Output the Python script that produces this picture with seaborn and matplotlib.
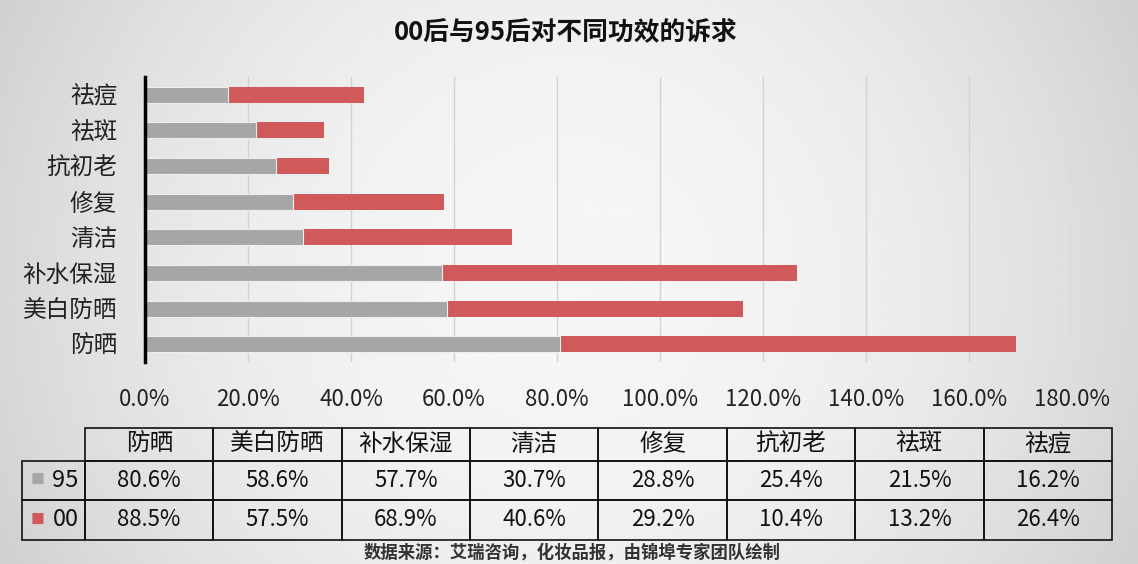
import numpy as np
import pandas as pd
import matplotlib.pyplot as plt
import seaborn as sns
from matplotlib.ticker import FuncFormatter

# data
effects = ['防晒', '美白防晒', '补水保湿', '清洁', '修复', '抗初老', '祛斑', '祛痘']
gen95 = [80.6, 58.6, 57.7, 30.7, 28.8, 25.4, 21.5, 16.2]
gen00 = [88.5, 57.5, 68.9, 40.6, 29.2, 10.4, 13.2, 26.4]
series = ['95', '00']
xticks = [0, 20, 40, 60, 80, 100, 120, 140, 160, 180]

gray = '#a6a6a6'
red = '#d05a5a'

sns.set_theme(style='white')
plt.rcParams['font.family'] = ['Noto Sans CJK SC', 'DejaVu Sans']

df = pd.DataFrame({'effect': effects, '95': gen95, '00': gen00})
df['total'] = df['95'] + df['00']
order = effects[::-1]

fig = plt.figure(figsize=(11.38, 5.64), dpi=100)

# light gray gradient background
bg = fig.add_axes([0, 0, 1, 1], zorder=-10)
xx = np.linspace(-1, 1, 400)
yy = np.linspace(-1, 1, 200)
X, Y = np.meshgrid(xx, yy)
shade = 0.965 - 0.12 * X ** 2 - 0.03 * Y ** 2
bg.imshow(shade, cmap='gray', vmin=0, vmax=1, aspect='auto', extent=[0, 1, 0, 1])
bg.axis('off')

# stacked bars
ax = fig.add_axes([145 / 1138, 1 - 362 / 564, (1072 - 145) / 1138, (362 - 77) / 564])
ax.set_facecolor('none')
sns.barplot(data=df, x='total', y='effect', order=order, color=red,
            saturation=1, width=0.45, ax=ax, linewidth=0)
sns.barplot(data=df, x='95', y='effect', order=order, color=gray,
            saturation=1, width=0.45, ax=ax, edgecolor='#eeeeee', linewidth=0.8)

ax.set_xlim(0, 180)
ax.set_xticks(xticks)
ax.xaxis.set_major_formatter(FuncFormatter(lambda v, p: f'{v:.1f}%'))
ax.tick_params(axis='x', length=0, pad=19, labelsize=16, colors='#222222')
ax.tick_params(axis='y', length=0, pad=20, labelsize=17, colors='#222222')
ax.set_xlabel('')
ax.set_ylabel('')
ax.xaxis.grid(True, color='#d2d2d2', linewidth=1)
ax.set_axisbelow(True)
for s in ['top', 'right', 'bottom']:
    ax.spines[s].set_visible(False)
ax.spines['left'].set_color('black')
ax.spines['left'].set_linewidth(2.5)

fig.text(566 / 1138, 1 - 33 / 564, '00后与95后对不同功效的诉求',
         ha='center', va='center', fontsize=18.5, fontweight='bold', color='#111111')

# data table
tax = fig.add_axes([22 / 1138, 1 - 540 / 564, (1112 - 22) / 1138, (540 - 428) / 564])
tax.axis('off')
cell_text = [[''] + effects,
             [series[0]] + [f'{v:.1f}%' for v in gen95],
             [series[1]] + [f'{v:.1f}%' for v in gen00]]
widths = [63] + [128.4] * len(effects)
tbl = tax.table(cellText=cell_text, colWidths=[w / sum(widths) for w in widths],
                cellLoc='center', bbox=[0, 0, 1, 1])
tbl.auto_set_font_size(False)
heights = [33, 39, 40]
for (r, c), cell in tbl.get_celld().items():
    cell.set_facecolor('none')
    cell.set_edgecolor('#111111')
    cell.set_linewidth(1.2)
    cell.set_height(heights[r] / 112)
    txt = cell.get_text()
    txt.set_color('#111111')
    txt.set_fontsize(17 if r == 0 else 16)
    if r == 0 and c == 0:
        cell.visible_edges = ''
    if c == 0 and r > 0:
        cell._loc = 'right'
        txt.set_horizontalalignment('right')
        txt.set_fontsize(17)

for y, col in zip([(540 - 480) / 112, (540 - 520) / 112], [gray, red]):
    tax.text((38 - 22) / 1090, y, '■', color=col, fontsize=10,
             ha='center', va='center', transform=tax.transAxes)

fig.text(572 / 1138, 1 - 553 / 564, '数据来源：艾瑞咨询，化妆品报，由锦埠专家团队绘制',
         ha='center', va='center', fontsize=12.5, fontweight='bold', color='#333333')

fig.savefig('out.png', dpi=100)
